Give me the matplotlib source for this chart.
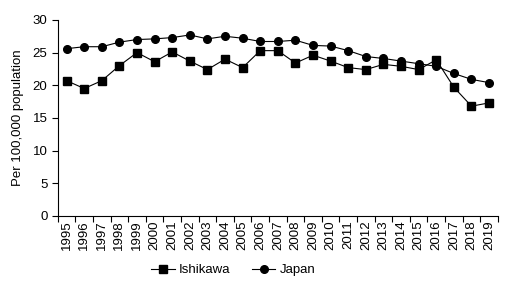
import numpy as np
import matplotlib.pyplot as plt

years = list(range(1995, 2020))
ishikawa = [20.7, 19.5, 20.7, 23.0, 25.0, 23.6, 25.1, 23.7, 22.4, 24.0, 22.7, 25.3, 25.3,
            23.4, 24.6, 23.7, 22.7, 22.4, 23.2, 22.9, 22.4, 23.9, 19.7, 16.8, 17.3]
japan = [25.6, 25.9, 25.9, 26.6, 27.0, 27.1, 27.3, 27.7, 27.1, 27.5, 27.2, 26.7, 26.7,
         26.9, 26.1, 26.0, 25.3, 24.4, 24.1, 23.7, 23.3, 22.9, 21.8, 20.9, 20.4]

plt.rcParams['font.family'] = ['Liberation Sans', 'DejaVu Sans']
fs = 9.5

fig = plt.figure(figsize=(5.07, 2.89), dpi=100)
ax = fig.add_axes([0.114, 0.253, 0.868, 0.678])

x = np.arange(len(years))
ax.plot(x, ishikawa, color='black', lw=0.8, marker='s', ms=5.5, label='Ishikawa')
ax.plot(x, japan, color='black', lw=0.8, marker='o', ms=5.5, label='Japan')

ax.set_xlim(-0.5, len(years) - 0.5)
ax.set_ylim(0, 30)
ax.set_yticks(range(0, 31, 5))
ax.set_xticks(np.arange(-0.5, len(years), 1))
ax.set_xticklabels([])
ax.set_xticks(x, minor=True)
ax.set_xticklabels([str(y) for y in years], minor=True, rotation=90)
ax.tick_params(axis='x', which='minor', length=0, labelsize=fs, pad=3)
ax.tick_params(axis='x', which='major', length=4, direction='out', width=0.8)
ax.tick_params(axis='y', length=4, direction='out', labelsize=fs, width=0.8)
ax.spines['top'].set_visible(False)
ax.spines['right'].set_visible(False)
ax.set_ylabel('Per 100,000 population', fontsize=fs, labelpad=6)

fig.legend(loc='center', bbox_to_anchor=(0.46, 0.065), ncol=2, frameon=False,
           fontsize=fs, handlelength=1.8, handletextpad=0.3, columnspacing=1.6)

fig.savefig('out.png', dpi=100)
